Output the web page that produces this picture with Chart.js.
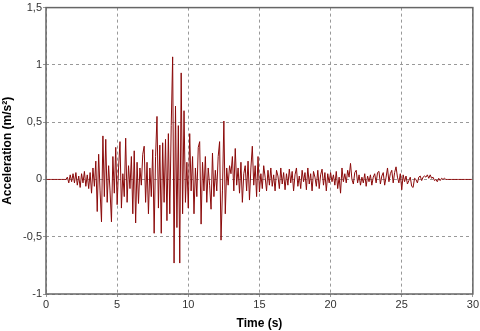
<!DOCTYPE html>
<html lang="en">
<head>
  <meta charset="UTF-8" />
  <title>Accelerogram</title>
  <script src="https://cdn.jsdelivr.net/npm/chart.js"></script>
  <style>
    body { margin: 0; padding: 0; background: #fff; }
    #wrap { width: 480px; height: 331px; }
  </style>
</head>
<body>
  <div id="wrap"><canvas id="accChart"></canvas></div>

  <script>
    // Record: sampling interval and start time (s)
    const startTime = 0;
    const sampleStep = 0.1;

    // Acceleration samples (m/s²), one row per second
    const accel = [
      0, 0, 0, 0, 0, 0, 0, 0, 0, 0,
      0, 0, 0, 0, 0, 0.02, -0.03, 0.04, -0.02, 0.05,
      -0.03, 0.06, -0.05, 0.03, -0.07, 0.05, -0.03, 0.07, -0.06, 0.04,
      -0.08, 0.06, -0.12, 0.1, -0.06, 0.16, -0.28, 0.22, -0.1, -0.37,
      0.38, -0.15, 0.35, -0.2, 0.12, -0.1, -0.37, 0.2, -0.12, 0.28,
      -0.22, 0.1, 0.33, -0.25, 0.05, -0.15, 0.36, -0.2, 0.12, -0.08,
      0.2, -0.3, 0.25, -0.38, 0.15, -0.21, 0.1, -0.05, 0.22, 0.29,
      -0.2, 0.15, -0.3, 0.1, -0.15, 0.26, -0.47, 0.2, 0.55, -0.25,
      0.3, -0.47, 0.32, -0.2, 0.35, -0.36, 0.4, -0.3, 0.47, 1.07,
      -0.73, 0.64, -0.42, 0.47, -0.73, 0.93, -0.3, 0.6, -0.2, 0.15,
      -0.25, 0.4, -0.1, 0.2, -0.3, 0.1, -0.15, 0.28, 0.33, -0.39,
      0.15, -0.1, 0.2, -0.2, 0.1, -0.05, -0.26, 0.23, -0.15, 0.08,
      -0.1, 0.2, 0.33, -0.53, -0.1, 0.51, -0.3, 0.1, -0.05, 0.12,
      0.05, 0.2, -0.1, 0.27, -0.05, 0.1, -0.12, 0.15, -0.2, 0.05,
      0.12, -0.1, 0.16, -0.18, 0.1, 0.29, -0.05, 0.12, -0.15, 0.2,
      -0.11, 0.05, -0.08, 0.12, 0.02, -0.1, 0.08, -0.05, 0.1, -0.06,
      0.04, -0.1, 0.08, 0.03, -0.08, 0.1, -0.04, 0.06, -0.09, 0.05,
      -0.05, 0.09, -0.03, 0.07, -0.1, 0.04, 0.1, -0.06, 0.03, -0.08,
      0.08, -0.02, 0.06, -0.09, 0.1, -0.04, 0.05, -0.1, 0.07, 0.02,
      -0.06, 0.08, -0.08, 0.04, 0.09, -0.05, 0.06, -0.1, 0.05, -0.03,
      0.06, -0.02, 0.04, -0.05, 0.07, -0.08, 0.02, -0.12, 0.1, -0.02,
      0.05, -0.03, 0.08, 0.02, 0.14, 0, -0.04, 0.06, 0.08, -0.03,
      0.04, -0.05, 0.02, -0.03, 0.05, -0.06, 0.03, -0.02, 0.04, -0.05,
      0.02, 0.05, -0.03, 0.06, 0.07, -0.04, 0.03, 0.06, -0.05, 0.02,
      0.1, -0.02, 0.05, 0.08, -0.03, 0.06, 0.11, 0.02, -0.03, 0.05,
      -0.09, 0.04, -0.02, 0.03, -0.04, -0.01, 0.02, -0.06, -0.07, 0.01,
      0, -0.03, 0.02, 0.03, -0.01, 0.02, 0.03, 0.02, 0.04, 0.01,
      0.04, 0.01, 0.02, -0.01, 0, -0.02, 0.01, -0.01, 0.01, 0,
      0.01, 0, 0, 0, 0, 0, 0, 0, 0, 0,
      0, 0, 0, 0, 0, 0, 0, 0, 0, 0,
      0
    ];

    // Axis ticks
    const xTicks = [0, 5, 10, 15, 20, 25, 30];
    const yTicks = [-1, -0.5, 0, 0.5, 1, 1.5];

    const points = accel.map((a, i) => ({ x: +(startTime + i * sampleStep).toFixed(2), y: a }));

    // frame around the plot area
    const frame = {
      id: 'frame',
      afterDraw(chart) {
        const { ctx, chartArea: a } = chart;
        ctx.save();
        ctx.strokeStyle = '#666';
        ctx.lineWidth = 1.5;
        ctx.strokeRect(a.left, a.top, a.right - a.left, a.bottom - a.top);
        ctx.restore();
      }
    };

    const gridOpts = {
      color: '#999',
      lineWidth: 1,
      tickLength: 3
    };

    new Chart(document.getElementById('accChart'), {
      type: 'line',
      data: {
        datasets: [{
          data: points,
          borderColor: '#8b0a0a',
          borderWidth: 1,
          pointRadius: 0,
          tension: 0
        }]
      },
      options: {
        responsive: true,
        maintainAspectRatio: false,
        animation: false,
        parsing: true,
        layout: { padding: { top: 6, right: 6, left: 0, bottom: 0 } },
        plugins: { legend: { display: false }, tooltip: { enabled: false } },
        scales: {
          x: {
            type: 'linear',
            min: xTicks[0],
            max: xTicks[xTicks.length - 1],
            afterBuildTicks: s => { s.ticks = xTicks.map(v => ({ value: v })); },
            afterFit: s => { s.height = 37; },
            grid: gridOpts,
            border: { display: false, dash: [3, 3] },
            ticks: { color: '#333', font: { family: 'Liberation Sans, Arial', size: 11 }, padding: 1, maxRotation: 0 },
            title: {
              display: true, text: 'Time (s)', color: '#000',
              font: { family: 'Liberation Sans, Arial', size: 12, weight: 'bold' },
              padding: { top: 0, bottom: 0 }
            }
          },
          y: {
            min: yTicks[0],
            max: yTicks[yTicks.length - 1],
            afterBuildTicks: s => { s.ticks = yTicks.map(v => ({ value: v })); },
            afterFit: s => { s.width = 46; },
            grid: gridOpts,
            border: { display: false, dash: [3, 3] },
            ticks: {
              color: '#333', font: { family: 'Liberation Sans, Arial', size: 11 }, padding: 1,
              callback: v => String(v).replace('.', ',')
            },
            title: {
              display: true, text: 'Acceleration (m/s²)', color: '#000',
              font: { family: 'Liberation Sans, Arial', size: 12, weight: 'bold' },
              padding: { top: 0, bottom: 0 }
            }
          }
        }
      },
      plugins: [frame]
    });
  </script>
</body>
</html>
